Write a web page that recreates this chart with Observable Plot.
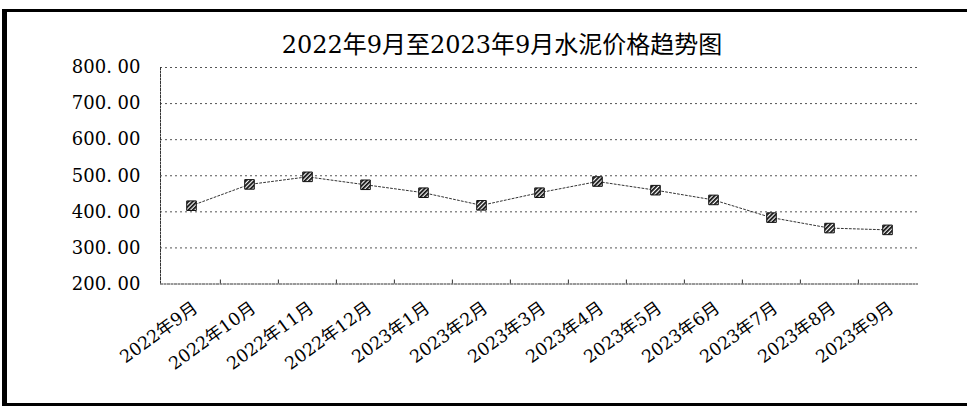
<!DOCTYPE html>
<html>
<head>
<meta charset="utf-8">
<script src="https://cdn.jsdelivr.net/npm/d3@7"></script>
<script src="https://cdn.jsdelivr.net/npm/@observablehq/plot@0.6"></script>
<style>
  html, body { margin: 0; padding: 0; background: #fff; overflow: hidden; }
  #wrap { position: relative; width: 967px; height: 406px; overflow: hidden; }
  #frame { position: absolute; left: 2px; top: 9px; width: 980px; height: 391px;
           border-left: 5px solid #000; border-top: 3px solid #000; border-bottom: 3px solid #000; }
  #title { position: absolute; left: 0; width: 1004px; top: 31px; text-align: center;
           font-family: "DejaVu Serif", "Noto Sans CJK SC", serif; font-size: 24px; color: #000;
           line-height: 28px; white-space: nowrap; }
  #chart { position: absolute; left: 0; top: 0; }
</style>
</head>
<body>
<svg width="0" height="0" style="position:absolute">
  <defs>
    <pattern id="hatch" patternUnits="userSpaceOnUse" width="3" height="3" patternTransform="rotate(45)">
      <rect width="3" height="3" fill="#fff"></rect>
      <rect width="1.8" height="3" fill="#111"></rect>
    </pattern>
  </defs>
</svg>
<div id="wrap">
  <div id="frame"></div>
  <div id="chart"></div>
  <div id="title">2022年9月至2023年9月水泥价格趋势图</div>
</div>
<script>
const months = ["2022年9月","2022年10月","2022年11月","2022年12月","2023年1月","2023年2月","2023年3月","2023年4月","2023年5月","2023年6月","2023年7月","2023年8月","2023年9月"];
const prices = [417, 476, 497, 475, 453, 418, 453, 484, 460, 433, 384, 355, 350];
const yTicks = [200, 300, 400, 500, 600, 700, 800];
const gridValues = [300, 400, 500, 600, 700, 800];

const data = months.map((m, i) => ({month: m, price: prices[i]}));

const W = 967, H = 406, ML = 160, MR = 50, MT = 67, MB = 122.5;
const step = (W - ML - MR) / months.length;

const chart = Plot.plot({
  width: W,
  height: H,
  marginLeft: ML,
  marginRight: MR,
  marginTop: MT,
  marginBottom: MB,
  style: {fontFamily: "\"DejaVu Serif\", \"Noto Sans CJK SC\", serif", color: "#000", background: "transparent"},
  x: {type: "point", domain: months, padding: 0.5, label: null},
  y: {domain: [200, 800], label: null},
  marks: [
    Plot.ruleY(gridValues, {stroke: "#555", strokeWidth: 1, strokeDasharray: "2,3"}),
    Plot.frame({anchor: "left", stroke: "#333", strokeDasharray: "2,1.5"}),
    Plot.frame({anchor: "bottom", stroke: "#333", strokeDasharray: "2,1.5"}),
    Plot.ruleX(months.slice(1), {x: d => d, y1: 200, y2: 211, dx: -step / 2, stroke: "#333"}),
    Plot.line(data, {x: "month", y: "price", stroke: "#333", strokeWidth: 1, strokeDasharray: "2,2"}),
    Plot.dot(data, {x: "month", y: "price", symbol: "square", r: 5.4, fill: "url(#hatch)", stroke: "#111", strokeWidth: 1}),
    Plot.axisY({ticks: yTicks, tickSize: 0, tickPadding: 20, fontSize: 18, label: null,
      tickFormat: d => d.toFixed(2).replace(".", ". ")}),
    Plot.axisX({tickSize: 0, tickRotate: -36, tickPadding: 22, dx: 4, fontSize: 17.5, label: null})
  ]
});
document.getElementById("chart").appendChild(chart);
</script>
</body>
</html>
